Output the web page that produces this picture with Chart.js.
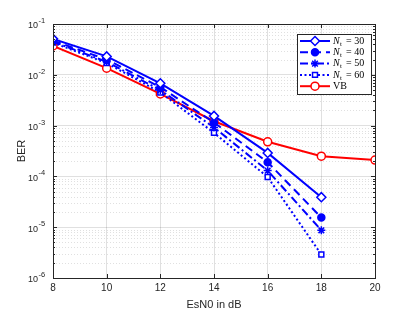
<!DOCTYPE html>
<html><head><meta charset="utf-8">
<script src="https://cdn.jsdelivr.net/npm/chart.js@4/dist/chart.umd.min.js"></script>
<style>html,body{margin:0;padding:0;background:#fff}#wrap{width:415px;height:312px}</style>
</head><body><div id="wrap"><canvas id="c" width="415" height="312"></canvas></div>
<script>
const esn0 = [8, 10, 12, 14, 16, 18, 20];
const nt30 = [0.051, 0.023, 0.0068, 0.00155, 0.00029, 0.000039];
const nt40 = [0.047, 0.020, 0.0057, 0.00115, 0.00019, 0.0000155];
const nt50 = [0.045, 0.018, 0.0050, 0.00092, 0.00013, 0.0000087];
const nt60 = [0.043, 0.017, 0.0045, 0.00072, 0.000097, 0.0000029];
const vb   = [0.037, 0.0135, 0.0042, 0.00122, 0.00048, 0.00025, 0.00021];
const seriesLabels = ['30', '40', '50', '60', 'VB'];
const yTickExponents = ['-1', '-2', '-3', '-4', '-5', '-6'];

const pts = arr => arr.map((v, i) => ({x: esn0[i], y: v}));
const BLUE = '#0000ff', RED = '#ff0000';
function ds(label, data, color, dash, style, fill, r) {
  return {label, data: pts(data), borderColor: color, backgroundColor: fill,
    borderWidth: 2, borderDash: dash, pointStyle: style, pointRadius: r,
    pointBorderColor: color, pointBackgroundColor: fill, pointBorderWidth: 1.5, tension: 0};
}
const datasets = [
  ds(seriesLabels[0], nt30, BLUE, [], 'rectRot', '#ffffff', 4.5),
  ds(seriesLabels[1], nt40, BLUE, [8, 5], 'circle', BLUE, 3.5),
  ds(seriesLabels[2], nt50, BLUE, [8, 3, 2, 3], 'star', BLUE, 4),
  ds(seriesLabels[3], nt60, BLUE, [2, 2.5], 'rect', '#ffffff', 3.5),
  ds(seriesLabels[4], vb, RED, [], 'circle', '#ffffff', 4)
];

const boxPlugin = {
  id: 'matlabBox',
  beforeDatasetsDraw(chart) {
    const {ctx, chartArea: a, scales: {x, y}} = chart;
    ctx.save();
    ctx.strokeStyle = 'rgba(0,0,0,0.12)';
    ctx.lineWidth = 1;
    ctx.setLineDash([1, 2]);
    for (let e = -6; e < -1; e++) {
      for (let m = 2; m <= 9; m++) {
        const py = Math.round(y.getPixelForValue(m * Math.pow(10, e))) + 0.5;
        ctx.beginPath(); ctx.moveTo(a.left, py); ctx.lineTo(a.right, py); ctx.stroke();
      }
    }
    ctx.restore();
  },
  afterDatasetsDraw(chart) {
    const {ctx, chartArea: a, scales: {x, y}} = chart;
    ctx.save();
    ctx.strokeStyle = '#262626';
    ctx.lineWidth = 1;
    ctx.setLineDash([]);
    ctx.strokeRect(Math.round(a.left) + 0.5, Math.round(a.top) + 0.5,
      Math.round(a.right - a.left), Math.round(a.bottom - a.top));
    ctx.beginPath();
    esn0.forEach(v => {
      const px = Math.round(x.getPixelForValue(v)) + 0.5;
      ctx.moveTo(px, a.bottom); ctx.lineTo(px, a.bottom - 4);
      ctx.moveTo(px, a.top); ctx.lineTo(px, a.top + 4);
    });
    for (let e = -6; e <= -1; e++) {
      const py = Math.round(y.getPixelForValue(Math.pow(10, e))) + 0.5;
      ctx.moveTo(a.left, py); ctx.lineTo(a.left + 4, py);
      ctx.moveTo(a.right, py); ctx.lineTo(a.right - 4, py);
      if (e < -1) for (let m = 2; m <= 9; m++) {
        const pm = Math.round(y.getPixelForValue(m * Math.pow(10, e))) + 0.5;
        ctx.moveTo(a.left, pm); ctx.lineTo(a.left + 2, pm);
        ctx.moveTo(a.right, pm); ctx.lineTo(a.right - 2, pm);
      }
    }
    ctx.stroke();

    // y tick labels: 10 with superscript exponent
    ctx.fillStyle = '#262626';
    ctx.textBaseline = 'middle';
    yTickExponents.forEach(ex => {
      const py = y.getPixelForValue(Math.pow(10, +ex));
      ctx.font = '9px "Liberation Sans", Arial';
      ctx.textAlign = 'right';
      ctx.fillText('10', 38, py + 2);
      ctx.font = '7.5px "Liberation Sans", Arial';
      ctx.textAlign = 'left';
      ctx.fillText(ex, 38.5, py - 3);
    });

    // legend
    const L = 297, T = 34, W = 74, H = 60;
    ctx.fillStyle = '#ffffff';
    ctx.fillRect(L, T, W, H);
    ctx.strokeStyle = '#262626';
    ctx.strokeRect(L + 0.5, T + 0.5, W, H);
    chart.data.datasets.forEach((d, i) => {
      const cy = T + 7 + i * 11.3;
      ctx.save();
      ctx.strokeStyle = d.borderColor; ctx.lineWidth = 2;
      ctx.setLineDash(d.borderDash);
      ctx.beginPath(); ctx.moveTo(L + 3, cy); ctx.lineTo(L + 33, cy); ctx.stroke();
      ctx.setLineDash([]);
      ctx.fillStyle = d.pointBackgroundColor; ctx.strokeStyle = d.pointBorderColor;
      ctx.lineWidth = d.pointBorderWidth;
      Chart.helpers.drawPoint(ctx, {pointStyle: d.pointStyle, radius: d.pointRadius, rotation: 0, borderWidth: d.pointBorderWidth}, L + 18, cy);
      ctx.restore();
      ctx.fillStyle = '#000';
      ctx.textBaseline = 'middle';
      ctx.textAlign = 'left';
      const tx = L + 36;
      if (d.label === 'VB') {
        ctx.font = '10px "Liberation Serif"';
        ctx.fillText('VB', tx, cy);
      } else {
        ctx.font = 'italic 10px "Liberation Serif"';
        ctx.fillText('N', tx, cy);
        ctx.font = '7px "Liberation Serif"';
        ctx.fillText('t', tx + 7, cy + 3);
        ctx.font = '10px "Liberation Serif"';
        ctx.fillText('= ' + d.label, tx + 13, cy);
      }
    });
    ctx.restore();
  }
};

new Chart(document.getElementById('c'), {
  type: 'line',
  data: {datasets},
  options: {
    responsive: false, animation: false, devicePixelRatio: 1,
    layout: {padding: {top: 24, right: 40, left: 0, bottom: 0}},
    plugins: {legend: {display: false}, tooltip: {enabled: false}},
    scales: {
      x: {
        type: 'linear', min: 8, max: 20,
        afterBuildTicks: s => { s.ticks = esn0.map(v => ({value: v})); },
        ticks: {color: '#262626', font: {family: '"Liberation Sans", Arial', size: 10}, padding: 4, maxRotation: 0},
        grid: {color: 'rgba(0,0,0,0.12)', drawTicks: false, lineWidth: 1},
        border: {display: false},
        title: {display: true, text: 'EsN0 in dB', color: '#262626', font: {family: '"Liberation Sans", Arial', size: 11}, padding: {top: 2, bottom: 0}},
        afterFit: s => { s.height = 34; }
      },
      y: {
        type: 'logarithmic', min: 1e-6, max: 1e-1,
        afterBuildTicks: s => { s.ticks = yTickExponents.map(k => ({value: Math.pow(10, +k)})); },
        ticks: {display: true, callback: () => ''},
        grid: {color: 'rgba(0,0,0,0.12)', drawTicks: false, lineWidth: 1},
        border: {display: false},
        title: {display: true, text: 'BER', color: '#262626', font: {family: '"Liberation Sans", Arial', size: 11}, padding: {top: 15, bottom: 4}},
        afterFit: s => { s.width = 53; }
      }
    }
  },
  plugins: [boxPlugin]
});
</script></body></html>
